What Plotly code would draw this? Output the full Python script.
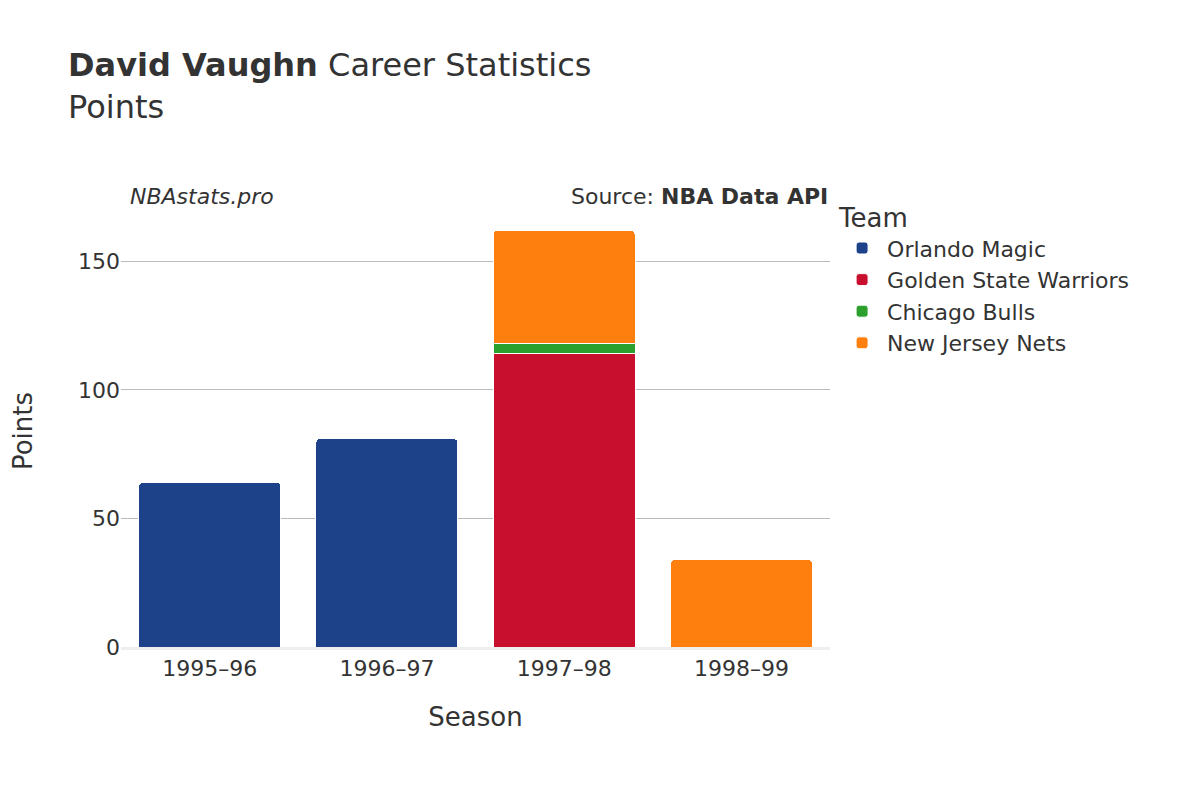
import plotly.graph_objects as go

seasons = ["1995–96", "1996–97", "1997–98", "1998–99"]
teams = ["Orlando Magic", "Golden State Warriors", "Chicago Bulls", "New Jersey Nets"]
colors = ["#1d428a", "#c8102e", "#2ca02c", "#ff7f0e"]
points = {
    "Orlando Magic": [64, 81, None, None],
    "Golden State Warriors": [None, None, 114, None],
    "Chicago Bulls": [None, None, 4, None],
    "New Jersey Nets": [None, None, 44, 34],
}

fig = go.Figure()
for team, color in zip(teams, colors):
    fig.add_trace(go.Bar(x=seasons, y=points[team], name=team,
                         marker=dict(color=color, line=dict(color="white", width=1))))

fig.update_layout(
    barmode="stack", barcornerradius=4, bargap=0.2,
    width=1200, height=800,
    font=dict(family="DejaVu Sans", size=22, color="#333"),
    paper_bgcolor="white", plot_bgcolor="white",
    title=dict(text="<b>David Vaughn</b> Career Statistics<br>Points",
               x=0.05, y=0.915, xanchor="left", yanchor="top",
               font=dict(size=32)),
    margin=dict(l=108, r=378, t=207, b=161),
    legend=dict(title=dict(text="Team", font=dict(size=26)), x=1.01, y=1.05,
                yanchor="top", traceorder="normal", font=dict(size=22),
                itemwidth=40),
    xaxis=dict(title=dict(text="Season", standoff=28, font=dict(size=26)),
               showgrid=False, linecolor="#eee", linewidth=3),
    yaxis=dict(title=dict(text="Points", standoff=40, font=dict(size=26)),
               gridcolor="#bbb", zeroline=False, dtick=50, range=[0, 168]),
    annotations=[
        dict(text="<i>NBAstats.pro</i>", x=0.01, y=1.01, xref="paper", yref="paper",
             xanchor="left", yanchor="bottom", showarrow=False,
             font=dict(size=22, color="#333")),
        dict(text="Source: <b>NBA Data API</b>", x=1, y=1.01, xref="paper",
             yref="paper", xanchor="right", yanchor="bottom", showarrow=False,
             font=dict(size=22, color="#333")),
    ],
)
fig.write_html("out.html")
